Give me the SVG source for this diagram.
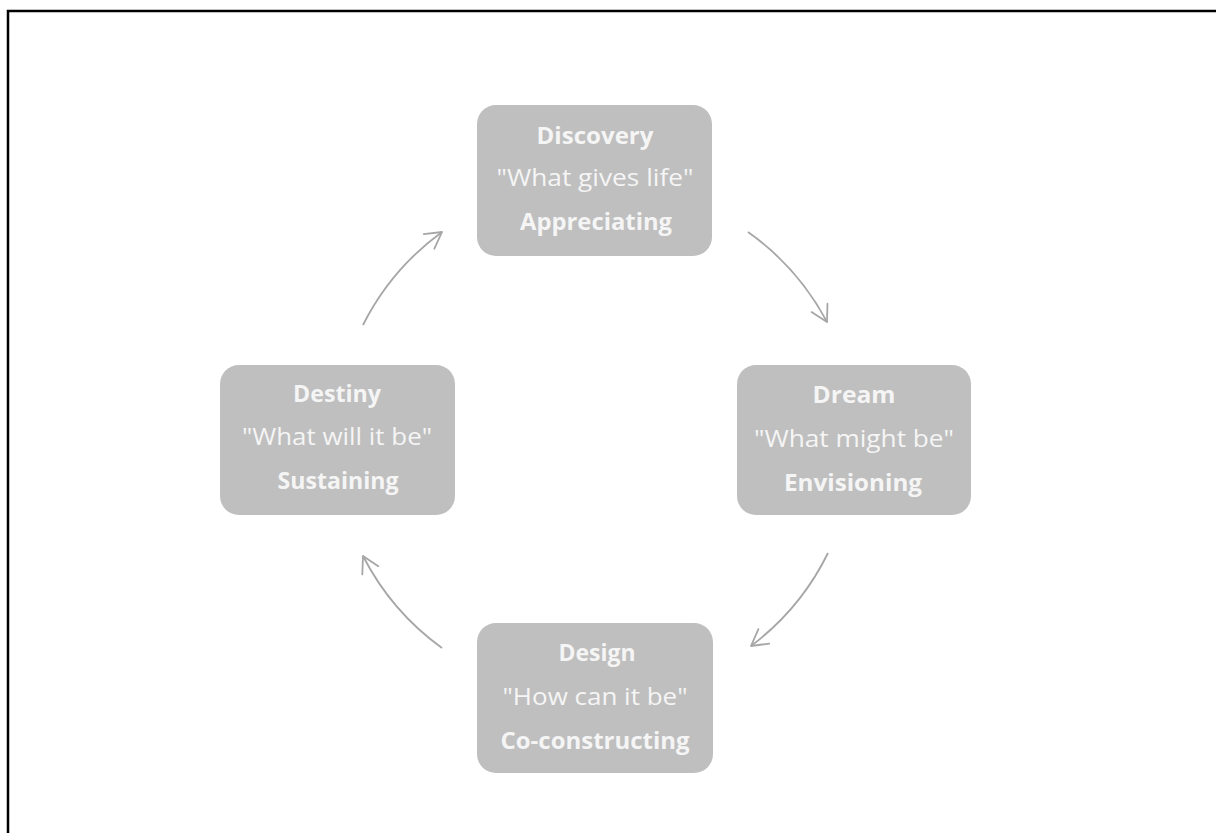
<svg xmlns="http://www.w3.org/2000/svg" width="1216" height="833" viewBox="0 0 1216 833">
  <style>
    .box { fill: #bfbfbf; }
    .t { font-family: "Open Sans", "Liberation Sans", sans-serif; font-size: 23px; font-weight: 500; fill: #f5f5f5; text-anchor: middle; }
    .b { font-weight: bold; }
    .arc { fill: none; stroke: #a6a6a6; stroke-width: 1.8; marker-end: url(#open); }
    .frame { stroke: #000; stroke-width: 2.5; fill: none; }
  </style>
  <defs>
    <marker id="open" markerUnits="userSpaceOnUse" markerWidth="30" markerHeight="30" refX="0" refY="0" viewBox="-20 -15 30 30" orient="auto">
      <path d="M-16,-9 L0,0 L-16,9" fill="none" stroke="#a6a6a6" stroke-width="1.8" stroke-linecap="round" stroke-linejoin="round"/>
    </marker>
  </defs>
  <rect width="1216" height="833" fill="#fff"/>

  <!-- page frame: only top and left edges fall inside the canvas -->
  <path class="frame" d="M1216,11 L8,11 L8,833"/>

  <!-- cycle connectors: arcs of one circle around the centre of the cycle -->
  <g id="connectors">
    <path class="arc" d="M748,232 A259,259 0 0 1 827,322"/>
    <path class="arc" d="M828,553 A259,259 0 0 1 751,646"/>
    <path class="arc" d="M442,648 A259,259 0 0 1 363,556"/>
    <path class="arc" d="M363,325 A259,259 0 0 1 442,232"/>
  </g>

  <g id="discovery">
    <rect class="box" x="477" y="105" width="235" height="151" rx="19"/>
    <text class="t b" x="595" y="144" textLength="117" lengthAdjust="spacingAndGlyphs">Discovery</text>
    <text class="t" x="595" y="186" textLength="197" lengthAdjust="spacingAndGlyphs">"What gives life"</text>
    <text class="t b" x="596" y="230" textLength="152" lengthAdjust="spacingAndGlyphs">Appreciating</text>
  </g>

  <g id="dream">
    <rect class="box" x="737" y="365" width="234" height="150" rx="19"/>
    <text class="t b" x="854" y="403" textLength="83" lengthAdjust="spacingAndGlyphs">Dream</text>
    <text class="t" x="854" y="447" textLength="200" lengthAdjust="spacingAndGlyphs">"What might be"</text>
    <text class="t b" x="853" y="491" textLength="138" lengthAdjust="spacingAndGlyphs">Envisioning</text>
  </g>

  <g id="design">
    <rect class="box" x="477" y="623" width="236" height="150" rx="19"/>
    <text class="t b" x="597" y="661" textLength="77" lengthAdjust="spacingAndGlyphs">Design</text>
    <text class="t" x="595" y="705" textLength="185" lengthAdjust="spacingAndGlyphs">"How can it be"</text>
    <text class="t b" x="595" y="749" textLength="189" lengthAdjust="spacingAndGlyphs">Co-constructing</text>
  </g>

  <g id="destiny">
    <rect class="box" x="220" y="365" width="235" height="150" rx="19"/>
    <text class="t b" x="337" y="402" textLength="88" lengthAdjust="spacingAndGlyphs">Destiny</text>
    <text class="t" x="337" y="445" textLength="190" lengthAdjust="spacingAndGlyphs">"What will it be"</text>
    <text class="t b" x="338" y="489" textLength="121" lengthAdjust="spacingAndGlyphs">Sustaining</text>
  </g>
</svg>
